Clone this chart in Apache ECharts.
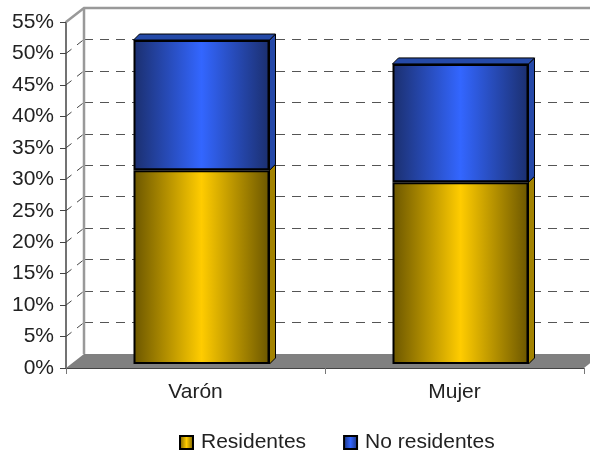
<!DOCTYPE html>
<html><head><meta charset="utf-8">
<style>html,body{margin:0;padding:0;background:#fff}#c{width:590px;height:454px}</style>
<script src="https://cdn.jsdelivr.net/npm/echarts@6/dist/echarts.min.js"></script>
</head><body><div id="c"></div>
<script>
const categories = ['Varón', 'Mujer'];
const residentes = [30.8, 28.9];
const noResidentes = [20.7, 18.8];
const yTicks = [5, 10, 15, 20, 25, 30, 35, 40, 45, 50, 55];
const FONT = '"Liberation Sans", Arial, sans-serif';

function grad(edge, mid) {
  return { type: 'linear', x: 0, y: 0, x2: 1, y2: 0, colorStops: [
    { offset: 0, color: edge }, { offset: 0.5, color: mid }, { offset: 1, color: edge }
  ] };
}
const depth = 6, wallDx = 18, wallDy = 14;

const yBase = { type: 'value', min: 0, max: 55, interval: 5 };
const chart = echarts.init(document.getElementById('c'), null, { renderer: 'canvas' });
chart.setOption({
  animation: false,
  backgroundColor: '#fff',
  grid: [
    { left: 66, top: 22, width: 518, height: 346 },
    { left: 84, top: 8, width: 518, height: 346 },
    { left: 72, top: 18, width: 518, height: 346 }
  ],
  xAxis: [
    { type: 'category', gridIndex: 0, data: categories,
      axisLine: { lineStyle: { color: '#444', width: 1 } },
      axisTick: { show: true, length: 6, alignWithLabel: false, lineStyle: { color: '#777' } },
      axisLabel: { color: '#222', fontSize: 21, fontFamily: FONT, margin: 14, align: 'center' } },
    { type: 'category', gridIndex: 1, data: categories, show: false },
    { type: 'category', gridIndex: 2, data: categories, show: false }
  ],
  yAxis: [
    Object.assign({}, yBase, { gridIndex: 0,
      axisLine: { show: true, lineStyle: { color: '#444', width: 1.5 } },
      axisTick: { show: true, length: 6, lineStyle: { color: '#444' } },
      axisLabel: { color: '#222', fontSize: 21, fontFamily: FONT, margin: 12, formatter: '{value}%' },
      splitLine: { show: false } }),
    Object.assign({}, yBase, { gridIndex: 1,
      axisLine: { show: false }, axisTick: { show: false }, axisLabel: { show: false },
      splitLine: { show: true, lineStyle: { color: '#555', width: 1, type: [9, 7] } } }),
    Object.assign({}, yBase, { gridIndex: 2, show: false, splitLine: { show: false } })
  ],
  legend: {
    data: ['Residentes', 'No residentes'], left: 174, top: 427,
    itemWidth: 13, itemHeight: 13, itemGap: 37, icon: 'rect',
    textStyle: { color: '#222', fontSize: 21, fontFamily: FONT, padding: [0, 0, 0, 3] },
    selectedMode: false
  },
  series: [
    { // back wall edges and floor
      type: 'custom', xAxisIndex: 0, yAxisIndex: 0, silent: true, z: 1, data: [0],
      renderItem(p, api) {
        const c = p.coordSys, b = c.y + c.height, r = c.x + c.width;
        const wx = c.x + wallDx;
        return { type: 'group', children: [
          { type: 'polygon', shape: { points: [[c.x, b], [wx, b - wallDy], [r + wallDx, b - wallDy], [r, b]] }, style: { fill: '#808080' } },
          { type: 'polyline', shape: { points: [[c.x, c.y], [wx, c.y - wallDy], [590, c.y - wallDy]] }, style: { stroke: '#999', lineWidth: 2.5, fill: null } },
          { type: 'line', shape: { x1: wx, y1: c.y - wallDy, x2: wx, y2: b - wallDy }, style: { stroke: '#999', lineWidth: 2.5 } }
        ] };
      }
    },
    { // dashed diagonals joining the front axis to the back wall
      type: 'custom', xAxisIndex: 0, yAxisIndex: 0, silent: true, z: 2,
      data: yTicks.slice(0, -1),
      encode: { y: 0 },
      renderItem(p, api) {
        const y = api.coord([0, api.value(0)])[1], x = p.coordSys.x;
        return { type: 'line', shape: { x1: x, y1: y, x2: x + wallDx, y2: y - wallDy },
          style: { stroke: '#444', lineWidth: 1, lineDash: [7, 7] } };
      }
    },
    { // right side and top faces of the columns
      type: 'custom', xAxisIndex: 2, yAxisIndex: 2, silent: true, z: 3,
      data: categories.map((_, i) => [i, residentes[i], noResidentes[i]]),
      encode: { x: 0 },
      renderItem(p, api) {
        const i = api.value(0), a = api.value(1), b = api.value(2), hw = 68;
        const p0 = api.coord([i, 0]), p1 = api.coord([i, a]), p2 = api.coord([i, a + b]);
        const xl = p0[0] - hw, xr = p0[0] + hw;
        const side = (y0, y1, fill) => ({ type: 'polygon',
          shape: { points: [[xr, y0], [xr + depth, y0 - depth], [xr + depth, y1 - depth], [xr, y1]] },
          style: { fill, stroke: '#000', lineWidth: 1 } });
        return { type: 'group', children: [
          side(p0[1], p1[1], '#a38300'),
          side(p1[1], p2[1], '#2548a8'),
          { type: 'polygon', shape: { points: [[xl, p2[1]], [xl + depth, p2[1] - depth], [xr + depth, p2[1] - depth], [xr, p2[1]]] },
            style: { fill: '#254aa8', stroke: '#000', lineWidth: 1 } }
        ] };
      }
    },
    { name: 'Residentes', type: 'bar', stack: 'a', xAxisIndex: 2, yAxisIndex: 2, barWidth: 136, z: 4,
      data: residentes,
      itemStyle: { color: grad('#6b5600', '#ffcc00'), borderColor: '#000', borderWidth: 2 } },
    { name: 'No residentes', type: 'bar', stack: 'a', xAxisIndex: 2, yAxisIndex: 2, barWidth: 136, z: 4,
      data: noResidentes,
      itemStyle: { color: grad('#1b2f6e', '#3366ff'), borderColor: '#000', borderWidth: 2 } }
  ]
});
</script></body></html>
